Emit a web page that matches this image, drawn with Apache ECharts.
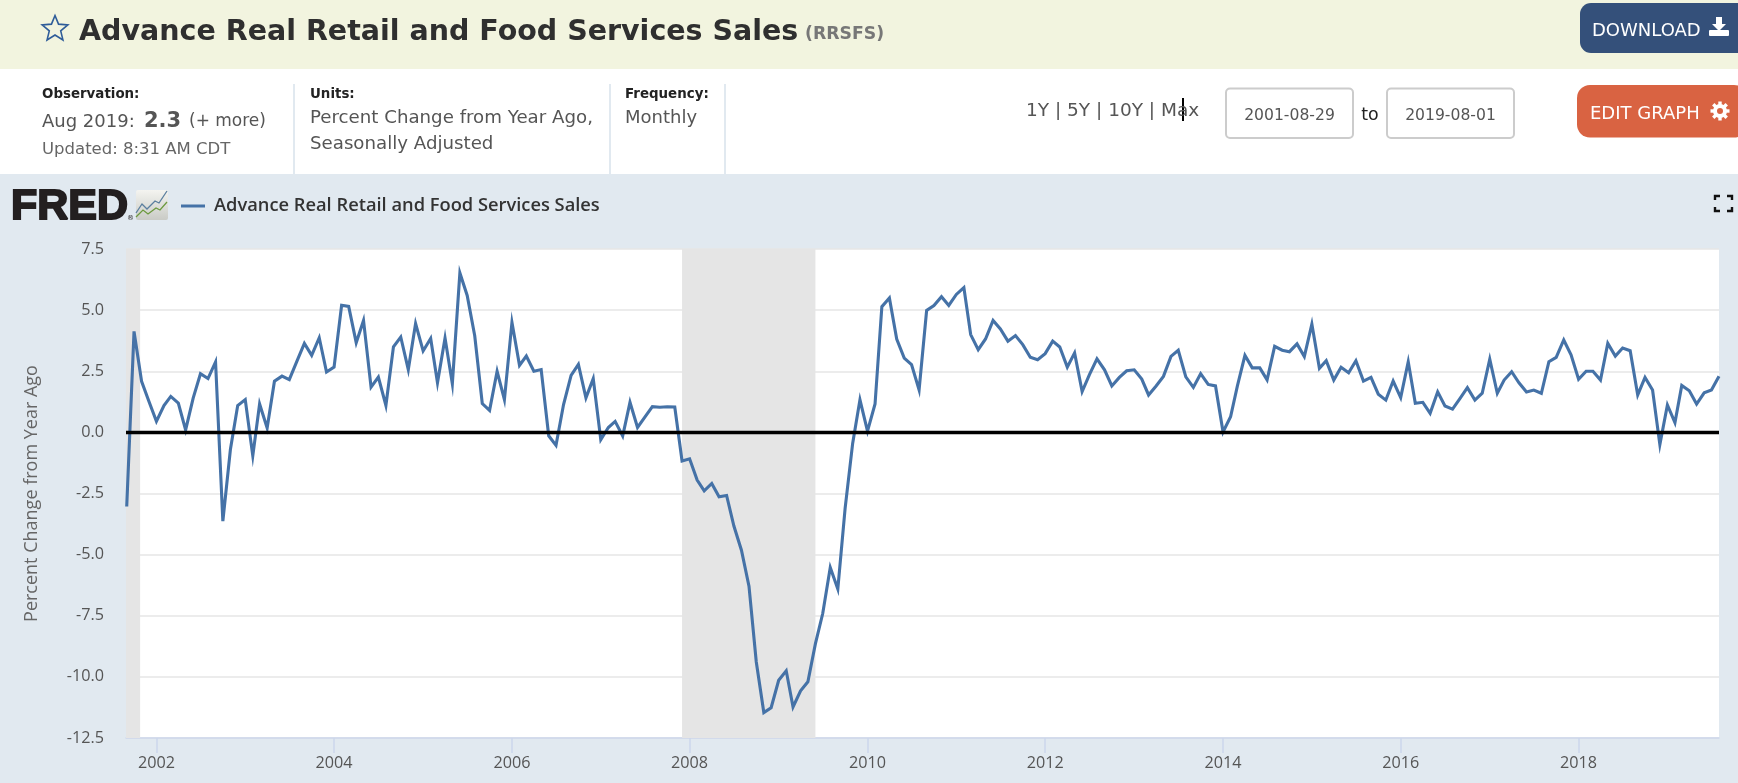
<!DOCTYPE html>
<html><head><meta charset="utf-8">
<style>html,body{margin:0;padding:0;background:#e1e9f0}#c{width:1738px;height:783px}</style>
<script src="https://cdn.jsdelivr.net/npm/echarts@6/dist/echarts.min.js"></script>
</head><body><div id="c"></div>
<script>
const seriesName = 'Advance Real Retail and Food Services Sales';
const firstYear = 2001, firstMonth = 8; // zero-based month: September 2001
const values = [
 -3.03,4.13,2.09,1.27,
 0.45,1.10,1.47,1.20,0.10,1.40,2.40,2.20,2.88,-3.63,-0.70,1.10,
 1.34,-0.96,1.16,0.18,2.09,2.30,2.16,2.90,3.64,3.15,3.87,2.47,
 2.67,5.20,5.15,3.67,4.58,1.85,2.26,1.10,3.50,3.90,2.57,4.45,
 3.33,3.84,2.03,3.86,1.99,6.52,5.60,3.95,1.18,0.90,2.50,1.34,
 4.50,2.74,3.12,2.50,2.57,-0.14,-0.53,1.14,2.33,2.78,1.41,2.20,
 -0.30,0.20,0.45,-0.15,1.23,0.20,0.62,1.05,1.03,1.05,1.04,-1.17,
 -1.08,-1.95,-2.39,-2.09,-2.63,-2.58,-3.83,-4.82,-6.29,-9.39,-11.46,-11.26,
 -10.14,-9.75,-11.23,-10.57,-10.20,-8.64,-7.41,-5.53,-6.41,-3.11,-0.45,1.33,
 0.05,1.16,5.14,5.50,3.82,3.04,2.77,1.74,4.99,5.19,5.55,5.19,
 5.64,5.92,4.00,3.38,3.82,4.58,4.23,3.73,3.96,3.59,3.07,2.97,
 3.22,3.73,3.49,2.67,3.25,1.67,2.36,3.01,2.56,1.90,2.25,2.52,
 2.56,2.18,1.53,1.90,2.29,3.11,3.36,2.27,1.84,2.40,1.96,1.90,
 0.02,0.64,1.90,3.15,2.64,2.64,2.15,3.52,3.36,3.30,3.62,3.10,
 4.43,2.62,2.93,2.14,2.66,2.44,2.93,2.10,2.25,1.56,1.32,2.10,
 1.42,2.89,1.19,1.23,0.78,1.66,1.08,0.95,1.39,1.83,1.32,1.60,
 2.99,1.60,2.14,2.48,2.03,1.65,1.73,1.60,2.89,3.07,3.78,3.17,
 2.17,2.50,2.50,2.14,3.64,3.12,3.45,3.34,1.53,2.25,1.73,-0.50,
 1.12,0.40,1.92,1.70,1.16,1.62,1.73,2.30
];
const tickYears = [2002,2004,2006,2008,2010,2012,2014,2016,2018];
const recessions = [[[2001,7,29],[2001,9,26]],[[2007,11,1],[2009,5,1]]];
const axisStart = [2001,7,29], axisEnd = [2019,7,1];
const yMin = -12.5, yMax = 7.5, yStep = 2.5;

const ts = a => new Date(a[0],a[1],a[2]).getTime();
const points = values.map((v,i)=>[new Date(firstYear,firstMonth+i,1).getTime(),v]);
const tickTimes = tickYears.map(y=>new Date(y,0,1).getTime());

const SANS = '"Open Sans",sans-serif';
const DJ = '"DejaVu Sans",sans-serif';
function T(x,y,text,fill,font,align){
  return {type:'text',x:x,y:y,silent:true,z:10,style:{text:text,fill:fill,font:font,align:align||'left',verticalAlign:'middle'}};
}
function R(x,y,w,h,fill,r,stroke,lw){
  return {type:'rect',silent:true,z:(r!==undefined?5:1),shape:{x:x,y:y,width:w,height:h,r:r||0},style:{fill:fill,stroke:stroke||null,lineWidth:lw||0}};
}
function L(pts,stroke,lw){
  return {type:'polyline',silent:true,z:10,shape:{points:pts},style:{stroke:stroke,lineWidth:lw,fill:null}};
}
function star(cx,cy,ro,ri){
  const p=[];for(let i=0;i<10;i++){const a=-Math.PI/2+i*Math.PI/5,r=i%2?ri:ro;p.push([cx+r*Math.cos(a),cy+r*Math.sin(a)]);}
  return {type:'polygon',silent:true,z:10,shape:{points:p},style:{fill:'none',stroke:'#2f5c99',lineWidth:1.6}};
}
function gear(cx,cy){
  const parts=[{type:'circle',silent:true,z:10,shape:{cx:cx,cy:cy,r:5},style:{fill:'none',stroke:'#fff',lineWidth:4}}];
  for(let i=0;i<8;i++){const a=i*Math.PI/4;
    parts.push(L([[cx+5*Math.cos(a),cy+5*Math.sin(a)],[cx+9.5*Math.cos(a),cy+9.5*Math.sin(a)]],'#fff',3.4));}
  return parts;
}
const decor = [
  R(0,0,1738,69,'#f2f4df'),
  R(0,69,1738,105,'#ffffff'),
  star(55,29,13.5,6),
  T(79,32.5,seriesName,'#2f2f2f','bold 28.5px '+DJ),
  T(805,34.5,'(RRSFS)','#777777','bold 17.3px '+DJ),
  R(1580,3,170,50,'#34507a',11),
  T(1592,31,'DOWNLOAD','#ffffff','18px '+DJ),
  {type:'polygon',silent:true,z:10,shape:{points:[[1716,17],[1722,17],[1722,24],[1726,24],[1719,31],[1712,24],[1716,24]]},style:{fill:'#fff'}},
  R(1709,30,20,6,'#ffffff',1),
  T(42,95,'Observation:','#222222','bold 13.4px '+DJ),
  T(42,122,'Aug 2019:','#555555','18px '+DJ),
  T(144,122,'2.3','#555555','bold 21px '+DJ),
  T(189,122,'(+ more)','#555555','17px '+DJ),
  T(42,150,'Updated: 8:31 AM CDT','#666666','16.5px '+DJ),
  R(293,84,2,90,'#e1e9f0'),R(609,84,2,90,'#e1e9f0'),R(724,84,2,90,'#e1e9f0'),
  T(310,95,'Units:','#222222','bold 13.4px '+DJ),
  T(310,118,'Percent Change from Year Ago,','#555555','18.2px '+DJ),
  T(310,144,'Seasonally Adjusted','#555555','18.2px '+DJ),
  T(625,95,'Frequency:','#222222','bold 13.4px '+DJ),
  T(625,118,'Monthly','#555555','18px '+DJ),
  T(1026,111,'1Y | 5Y | 10Y | Max','#555555','18.5px '+DJ),
  R(1182,98,2,23,'#000000'),
  R(1226,88.5,127,49.5,'#ffffff',4,'#cccccc',2),
  T(1289.5,116,'2001-08-29','#555555','15.6px '+DJ,'center'),
  T(1370,115,'to','#222222','17.4px '+DJ,'center'),
  R(1387,88.5,127,49.5,'#ffffff',4,'#cccccc',2),
  T(1450.5,116,'2019-08-01','#555555','15.6px '+DJ,'center'),
  R(1577,85,170,52.5,'#d96342',13),
  T(1590,114,'EDIT GRAPH','#ffffff','18px '+DJ)
].concat(gear(1720,111)).concat([
  // FRED mark
  {type:'text',x:11,y:207,silent:true,z:10,style:{text:'FRED',fill:'#231f20',stroke:'#231f20',lineWidth:2,font:'900 43px "Liberation Sans",sans-serif',align:'left',verticalAlign:'middle'}},
  T(127,218,'\u00ae','#231f20','7px '+DJ),
  {type:'rect',silent:true,z:5,shape:{x:136,y:190,width:32,height:30,r:2},style:{fill:new echarts.graphic.LinearGradient(0,0,0,1,[{offset:0,color:'#f4f4f0'},{offset:1,color:'#c9cbc6'}])}},
  L([[136,213],[142,204],[147,209],[155,201],[159,203],[167,191]],'#5b7f9f',1.3),
  L([[136,217],[143,210],[148,214],[156,208],[160,210],[167,202]],'#6c9a3f',1.3),
  // fullscreen icon
  L([[1715,200],[1715,196],[1720,196]],'#111',2.4),L([[1727,196],[1732,196],[1732,200]],'#111',2.4),
  L([[1715,207],[1715,211],[1720,211]],'#111',2.4),L([[1727,211],[1732,211],[1732,207]],'#111',2.4)
]);

const chart = echarts.init(document.getElementById('c'),null,{renderer:'canvas',width:1738,height:783});
chart.setOption({
  animation:false,
  backgroundColor:'#e1e9f0',
  textStyle:{fontFamily:SANS},
  legend:{show:true,left:176,top:192,itemWidth:24,itemHeight:3,itemGap:8,icon:'rect',
    textStyle:{color:'#333333',fontSize:18.3,fontWeight:600,fontFamily:SANS,padding:[0,0,0,4]},
    data:[{name:seriesName}],selectedMode:false},
  grid:{left:126,right:19,top:249,bottom:45,containLabel:false,show:true,backgroundColor:'#ffffff',borderWidth:0},
  xAxis:{type:'time',min:ts(axisStart),max:ts(axisEnd),
    axisLine:{show:true,onZero:false,lineStyle:{color:'#ccd6eb',width:1.5}},
    axisTick:{show:true,length:15,customValues:tickTimes,lineStyle:{color:'#ccd6eb',width:1.5}},
    axisLabel:{customValues:tickTimes,color:'#555555',fontSize:16.2,margin:17,fontFamily:SANS,hideOverlap:false,
      formatter:'{yyyy}'},
    splitLine:{show:false},minorTick:{show:false}},
  yAxis:{type:'value',min:yMin,max:yMax,interval:yStep,
    name:'Percent Change from Year Ago',nameLocation:'middle',nameGap:85,nameRotate:90,
    nameTextStyle:{color:'#666666',fontSize:18,fontFamily:SANS},
    axisLine:{show:false},axisTick:{show:false},
    axisLabel:{color:'#555555',fontSize:16.2,margin:22,fontFamily:SANS,formatter:v=>v.toFixed(1)},
    splitLine:{show:true,lineStyle:{color:'#e6e6e6',width:1.5}}},
  graphic:{elements:decor},
  series:[{
    name:seriesName,type:'line',data:points,symbol:'none',showSymbol:false,
    lineStyle:{color:'#4572a7',width:3.1,join:'miter'},itemStyle:{color:'#4572a7'},
    markArea:{silent:true,z:1,itemStyle:{color:'#e5e5e5',opacity:1},label:{show:false},
      data:recessions.map(r=>[{xAxis:ts(r[0])},{xAxis:ts(r[1])}])},
    markLine:{silent:true,z:5,symbol:'none',animation:false,label:{show:false},
      lineStyle:{color:'#000000',width:3.3,type:'solid'},emphasis:{disabled:true},data:[{yAxis:0}]}
  }]
});
</script></body></html>
